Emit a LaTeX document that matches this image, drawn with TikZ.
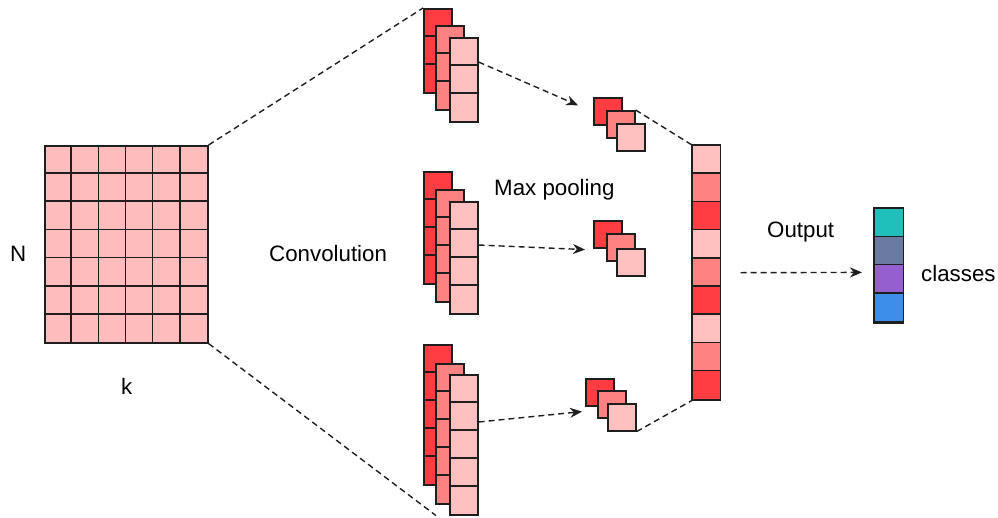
\documentclass[tikz,border=0pt]{standalone}
\usepackage{fontspec}
\setmainfont{Liberation Sans}
\usetikzlibrary{arrows.meta}
\definecolor{edgec}{HTML}{1E1E1E}
\definecolor{dk}{HTML}{FF3D42}
\definecolor{md}{HTML}{FF8282}
\definecolor{lt}{HTML}{FFC0C0}
\definecolor{gridc}{HTML}{FFBCBC}
\definecolor{cteal}{HTML}{1FBFBC}
\definecolor{cslate}{HTML}{6B7AA1}
\definecolor{cpurple}{HTML}{965FCF}
\definecolor{cblue}{HTML}{3C8EEA}
\tikzset{
  cellbox/.style={draw=edgec, line width=1.6pt, inner sep=0pt, anchor=north west, minimum width=28pt},
  cellline/.style={draw=edgec, line width=1.6pt},
  dline/.style={draw=edgec, line width=1.4pt, dash pattern=on 6pt off 4pt},
  arr/.style={dline, -{Stealth[length=12pt,width=10pt]}},
  lbl/.style={inner sep=0pt, anchor=base west, font=\fontsize{22.3}{26}\selectfont}
}
% name, x, y, n, colour, cell height
\newcommand{\cellcol}[6]{%
  \node[cellbox, fill=#5, minimum height={#4*#6pt}] (#1) at (#2,#3) {};
  \ifnum#4>1
    \foreach \i in {2,...,#4} \draw[cellline] ([yshift={-(\i-1)*#6pt}]#1.north west) -- ([yshift={-(\i-1)*#6pt}]#1.north east);
  \fi
}
\begin{document}
\begin{tikzpicture}[x=1pt,y=-1pt]
\useasboundingbox (0,0) rectangle (998,517);
\fill[white] (0,0) rectangle (998,517);

% input grid
\node[cellbox, fill=gridc, minimum width=163pt, minimum height=197pt] (grid) at (44,145) {};
\foreach \i in {1,...,5} \draw[cellline] ([xshift=\i*27.17pt]grid.north west) -- ([xshift=\i*27.17pt]grid.south west);
\foreach \j in {1,...,6} \draw[cellline] ([yshift=-\j*28.14pt]grid.north west) -- ([yshift=-\j*28.14pt]grid.north east);

% dashed connectors (behind the blocks)
\coordinate (gNE) at (grid.north east);
\coordinate (gSE) at (grid.south east);

% convolution stacks
\cellcol{topB}{423}{8}{3}{dk}{28}
\cellcol{topM}{435}{25}{3}{md}{28}
\cellcol{topF}{449}{37}{3}{lt}{28}

\cellcol{midB}{423}{171}{4}{dk}{28}
\cellcol{midM}{435}{189}{4}{md}{28}
\cellcol{midF}{449}{201}{4}{lt}{28}

\cellcol{botB}{423}{344}{5}{dk}{28}
\cellcol{botM}{435}{363}{5}{md}{28}
\cellcol{botF}{449}{374}{5}{lt}{28}

% pooling
\begin{scope}[every node/.append style={minimum width=27pt, minimum height=27pt}]
\node[cellbox, fill=dk] (poolTa) at (593,97) {};
\node[cellbox, fill=md] (poolTb) at (606,110) {};
\node[cellbox, fill=lt] (poolTc) at (616,123) {};
\node[cellbox, fill=dk] (poolMa) at (593,220) {};
\node[cellbox, fill=md] (poolMb) at (606,233) {};
\node[cellbox, fill=lt] (poolMc) at (616,248) {};
\node[cellbox, fill=dk] (poolBa) at (585,378) {};
\node[cellbox, fill=md] (poolBb) at (597,390) {};
\node[cellbox, fill=lt] (poolBc) at (607,403) {};
\end{scope}

% flattened column
\node[cellbox, fill=lt, minimum width=27pt, minimum height=253.8pt] (col) at (692,145) {};
\foreach \i/\c in {0/lt,1/md,2/dk,3/lt,4/md,5/dk,6/lt,7/md,8/dk}
  \fill[\c] ([yshift={-\i*28.2pt}]col.north west) rectangle ([yshift={-(\i+1)*28.2pt}]col.north east);
\draw[cellline] (col.north west) rectangle (col.south east);
\foreach \i in {1,...,8} \draw[cellline] ([yshift={-\i*28.2pt}]col.north west) -- ([yshift={-\i*28.2pt}]col.north east);

% classes
\node[cellbox, fill=cteal, minimum width=28pt, minimum height=113.2pt] (cls) at (874,208) {};
\foreach \i/\c in {0/cteal,1/cslate,2/cpurple,3/cblue}
  \fill[\c] ([yshift={-\i*28.3pt}]cls.north west) rectangle ([yshift={-(\i+1)*28.3pt}]cls.north east);
\draw[cellline] (cls.north west) rectangle (cls.south east);
\foreach \i in {1,...,3} \draw[cellline] ([yshift={-\i*28.3pt}]cls.north west) -- ([yshift={-\i*28.3pt}]cls.north east);

% dashed connectors
\draw[dline] (grid.north east) -- (topB.north west);
\draw[dline] (grid.south east) -- ([xshift=-13pt]botF.south west);
\draw[dline] (poolTb.north east) -- (col.north west);
\draw[dline] (poolBc.south east) -- (col.south west);

\draw[arr] ([yshift=-25pt]topF.north east) -- ([xshift=-15pt,yshift=6pt]poolTa.west);
\draw[arr] ([yshift=-44pt]midF.north east) -- ([xshift=-8pt,yshift=-1pt]poolMa.south west);
\draw[arr] ([yshift=-48pt]botF.north east) -- ([xshift=-3pt,yshift=-5pt]poolBa.south west);
\draw[arr] ([xshift=20pt]col.east) -- ([xshift=-12pt,yshift=-7pt]cls.west);

% labels
\node[lbl] (lN) at (10,261) {N};
\node[lbl] (lk) at (121,394) {k};
\node[lbl] (lconv) at (269,261) {Convolution};
\node[lbl] (lpool) at (494,195) {Max pooling};
\node[lbl] (lout) at (767,237) {Output};
\node[lbl] (lcls) at (921,281) {classes};
\end{tikzpicture}
\end{document}
